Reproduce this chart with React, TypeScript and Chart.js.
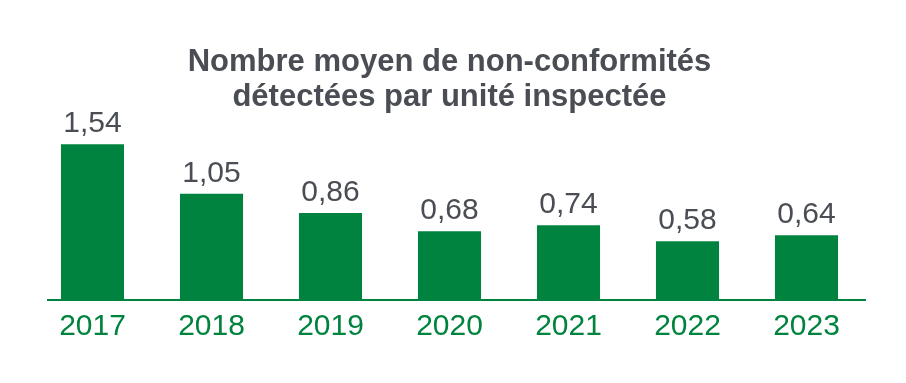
import React, { useEffect, useRef } from "react";
import { Chart, registerables } from "chart.js";

Chart.register(...registerables);

const years = ["2017", "2018", "2019", "2020", "2021", "2022", "2023"];
const values = [1.54, 1.05, 0.86, 0.68, 0.74, 0.58, 0.64];
const titleLines = ["Nombre moyen de non-conformités", "détectées par unité inspectée"];

const GREEN = "#00833e";
const GRAY = "#4a4e54";
const FONT = "'Liberation Sans', Arial, sans-serif";

const valueLabels = {
  id: "valueLabels",
  afterDatasetsDraw(chart: any) {
    const ctx = chart.ctx;
    const meta = chart.getDatasetMeta(0);
    ctx.save();
    ctx.font = `30px ${FONT}`;
    ctx.fillStyle = GRAY;
    ctx.textAlign = "center";
    ctx.textBaseline = "alphabetic";
    meta.data.forEach((bar: any, i: number) => {
      const txt = values[i].toFixed(2).replace(".", ",");
      ctx.fillText(txt, bar.x, bar.y - 12);
    });
    ctx.restore();
  },
};

const axisLine = {
  id: "axisLine",
  afterDatasetsDraw(chart: any) {
    const ctx = chart.ctx;
    const y = chart.scales.y.getPixelForValue(0);
    const { left, right } = chart.chartArea;
    ctx.save();
    ctx.strokeStyle = GREEN;
    ctx.lineWidth = 2;
    ctx.beginPath();
    ctx.moveTo(left + 14, y);
    ctx.lineTo(right, y);
    ctx.stroke();
    ctx.restore();
  },
};

export default function App() {
  const ref = useRef<HTMLCanvasElement | null>(null);
  useEffect(() => {
    if (!ref.current) return;
    const chart = new Chart(ref.current, {
      type: "bar",
      data: {
        labels: years,
        datasets: [
          {
            data: values,
            backgroundColor: GREEN,
            borderWidth: 0,
            barPercentage: 0.53,
            categoryPercentage: 1,
          },
        ],
      },
      options: {
        responsive: false,
        animation: false,
        layout: { padding: { left: 33, right: 40, top: 0, bottom: 29 } },
        plugins: {
          legend: { display: false },
          tooltip: { enabled: false },
          title: {
            display: true,
            text: titleLines,
            color: GRAY,
            font: { family: FONT, size: 31, weight: "bold", lineHeight: 1.13 },
            padding: { top: 45, bottom: 3 },
          },
        },
        scales: {
          x: {
            grid: { display: false, drawTicks: false },
            border: { display: false },
            ticks: {
              color: GREEN,
              padding: 9,
              font: { family: FONT, size: 30, lineHeight: 1.2 },
            },
          },
          y: {
            display: false,
            min: 0,
            max: 1.8,
          },
        },
      },
      plugins: [valueLabels, axisLine],
    });
    return () => chart.destroy();
  }, []);
  return (
    <canvas
      ref={ref}
      width={906}
      height={383}
      style={{ position: "fixed", left: 0, top: 0, width: 906, height: 383 }}
    />
  );
}
